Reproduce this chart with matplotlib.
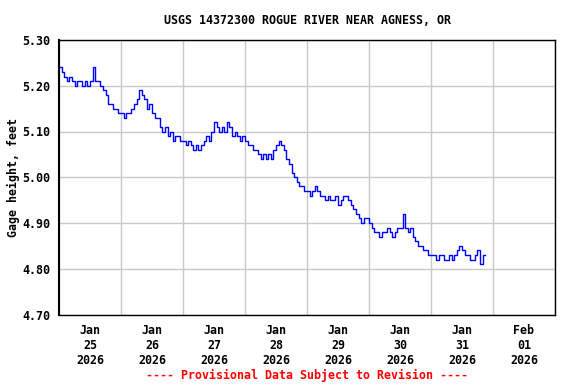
import numpy as np
import matplotlib
matplotlib.use("Agg")
import matplotlib.pyplot as plt

# hourly gage height readings (feet), starting Jan 25 2026 00:00
jan25 = [5.24, 5.23, 5.22, 5.21, 5.22, 5.21, 5.20, 5.21, 5.21, 5.20, 5.21, 5.20,
         5.21, 5.24, 5.21, 5.21, 5.20, 5.19, 5.18, 5.16, 5.16, 5.15, 5.15, 5.14]
jan26 = [5.14, 5.13, 5.14, 5.14, 5.15, 5.16, 5.17, 5.19, 5.18, 5.17, 5.15, 5.16,
         5.14, 5.13, 5.13, 5.11, 5.10, 5.11, 5.09, 5.10, 5.08, 5.09, 5.09, 5.08]
jan27 = [5.08, 5.07, 5.08, 5.07, 5.06, 5.07, 5.06, 5.07, 5.08, 5.09, 5.08, 5.10,
         5.12, 5.11, 5.10, 5.11, 5.10, 5.12, 5.11, 5.09, 5.10, 5.09, 5.08, 5.09]
jan28 = [5.08, 5.07, 5.07, 5.06, 5.06, 5.05, 5.04, 5.05, 5.04, 5.05, 5.04, 5.06,
         5.07, 5.08, 5.07, 5.06, 5.04, 5.03, 5.01, 5.00, 4.99, 4.98, 4.98, 4.97]
jan29 = [4.97, 4.96, 4.97, 4.98, 4.97, 4.96, 4.96, 4.95, 4.96, 4.95, 4.95, 4.96,
         4.94, 4.95, 4.96, 4.96, 4.95, 4.94, 4.93, 4.92, 4.91, 4.90, 4.91, 4.91]
jan30 = [4.90, 4.89, 4.88, 4.88, 4.87, 4.88, 4.88, 4.89, 4.88, 4.87, 4.88, 4.89,
         4.89, 4.92, 4.89, 4.88, 4.89, 4.87, 4.86, 4.85, 4.85, 4.84, 4.84, 4.83]
jan31 = [4.83, 4.83, 4.82, 4.83, 4.83, 4.82, 4.82, 4.83, 4.82, 4.83, 4.84, 4.85,
         4.84, 4.83, 4.83, 4.82, 4.82, 4.83, 4.84, 4.81, 4.83, 4.83]

day_labels = ["Jan\n25\n2026", "Jan\n26\n2026", "Jan\n27\n2026", "Jan\n28\n2026",
              "Jan\n29\n2026", "Jan\n30\n2026", "Jan\n31\n2026", "Feb\n01\n2026"]
y_ticks = [4.70, 4.80, 4.90, 5.00, 5.10, 5.20, 5.30]

gage = jan25 + jan26 + jan27 + jan28 + jan29 + jan30 + jan31
hours = np.arange(len(gage))

font = dict(family="DejaVu Sans Mono", weight="bold", size=8.4)

fig = plt.figure(figsize=(5.76, 3.84), dpi=100)
ax = fig.add_axes([59 / 576, 1 - 314.5 / 384, 496 / 576, 274.5 / 384])

ax.plot(hours, gage, color="#0000ff", lw=1.0, drawstyle="steps-post")

ax.set_xlim(0, 24 * len(day_labels))
ax.set_ylim(4.70, 5.30)
ax.set_xticks(np.arange(0, 24 * len(day_labels) + 1, 24))
ax.set_xticklabels([])
ax.set_xticks(np.arange(12, 24 * len(day_labels), 24), minor=True)
ax.set_xticklabels(day_labels, minor=True, fontdict=font, linespacing=1.2)
ax.set_yticks(y_ticks)
ax.set_yticklabels(["%.2f" % v for v in y_ticks], fontdict=font)
ax.tick_params(which="both", length=0, pad=6)
ax.tick_params(axis="x", which="minor", pad=7)

ax.grid(True, which="major", color="#c8c8c8", lw=1)
ax.set_axisbelow(True)
for s in ax.spines.values():
    s.set_linewidth(1)
ax.spines["left"].set_linewidth(1.5)

ax.set_ylabel("Gage height, feet", fontdict=font, labelpad=2)
fig.text(307 / 576, 1 - 20 / 384, "USGS 14372300 ROGUE RIVER NEAR AGNESS, OR",
         ha="center", va="center", **font)
fig.text(307 / 576, 1 - 375 / 384, "---- Provisional Data Subject to Revision ----",
         ha="center", va="center", color="red", **font)

fig.savefig("out.png", dpi=100)
